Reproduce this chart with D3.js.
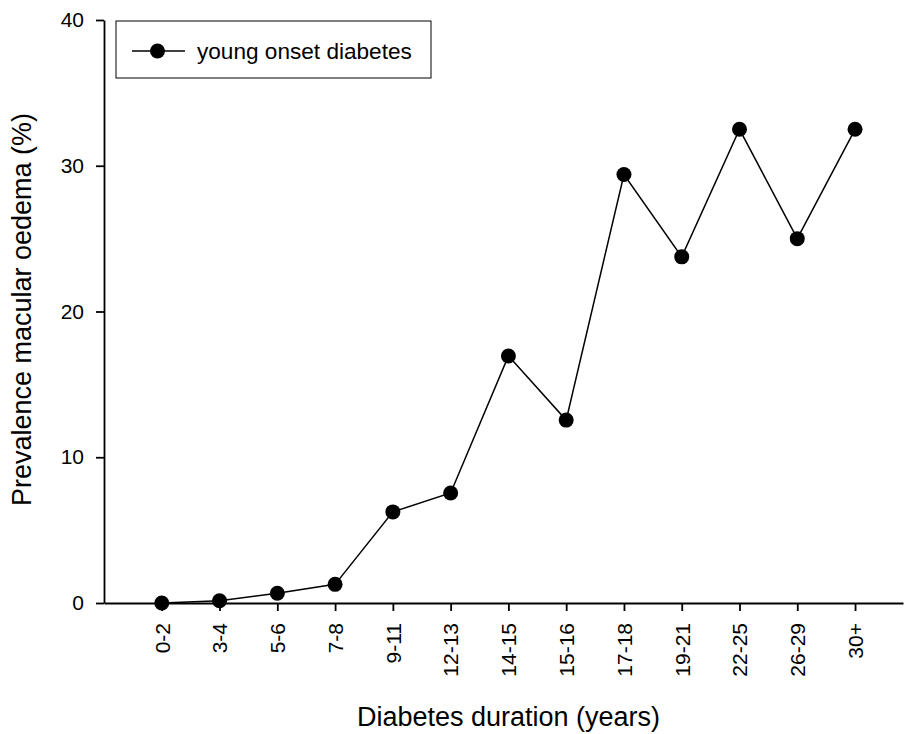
<!DOCTYPE html>
<html>
<head>
<meta charset="utf-8">
<script src="https://cdn.jsdelivr.net/npm/d3@7"></script>
<style>
  body { margin: 0; background: #fff; }
  svg { display: block; font-family: Arial, "Liberation Sans", sans-serif; }
</style>
</head>
<body>
<svg id="chart" width="904" height="734"></svg>
<script>
// duration groups and prevalence values
const durations = ["0-2", "3-4", "5-6", "7-8", "9-11", "12-13", "14-15", "15-16", "17-18", "19-21", "22-25", "26-29", "30+"];
const prevalence = [0, 0.15, 0.67, 1.28, 6.25, 7.55, 16.95, 12.55, 29.4, 23.75, 32.5, 25.0, 32.5];
const yTicks = [0, 10, 20, 30, 40];
const seriesName = "young onset diabetes";

const width = 904;
const height = 734;
const margin = { top: 20, right: 1, bottom: 131, left: 104 };

const svg = d3.select("#chart");

const x = d3.scaleLinear()
  .domain([-1, 12.83])
  .range([margin.left, width - margin.right]);

const y = d3.scaleLinear()
  .domain([0, 40])
  .range([height - margin.bottom, margin.top]);

// y axis
const yAxis = svg.append("g")
  .attr("transform", `translate(${margin.left},0)`)
  .call(d3.axisLeft(y).tickValues(yTicks).tickSize(8).tickSizeOuter(0).tickPadding(12));
yAxis.selectAll("path, line").attr("stroke", "#000").attr("stroke-width", 1.8);
yAxis.selectAll("text").attr("font-size", 21).attr("fill", "#000").attr("font-family", null);

// x axis
const xAxis = svg.append("g")
  .attr("transform", `translate(0,${y(0)})`)
  .call(d3.axisBottom(x)
    .tickValues(d3.range(durations.length))
    .tickFormat((i) => durations[i])
    .tickSize(8)
    .tickSizeOuter(0));
xAxis.selectAll("path, line").attr("stroke", "#000").attr("stroke-width", 1.8);
xAxis.selectAll("text")
  .attr("font-size", 21)
  .attr("fill", "#000")
  .attr("font-family", null)
  .attr("transform", "rotate(-90)")
  .attr("text-anchor", "end")
  .attr("x", -20)
  .attr("y", 0)
  .attr("dy", "0.35em");

// axis titles
svg.append("text")
  .attr("x", (margin.left + width - margin.right) / 2 + 5)
  .attr("y", 726)
  .attr("text-anchor", "middle")
  .attr("font-size", 27)
  .text("Diabetes duration (years)");

svg.append("text")
  .attr("transform", `translate(31,${(y(0) + y(40)) / 2 - 2}) rotate(-90)`)
  .attr("text-anchor", "middle")
  .attr("font-size", 27)
  .text("Prevalence macular oedema (%)");

// series
const line = d3.line()
  .x((d, i) => x(i))
  .y((d) => y(d));

svg.append("path")
  .datum(prevalence)
  .attr("d", line)
  .attr("fill", "none")
  .attr("stroke", "#000")
  .attr("stroke-width", 1.5);

svg.selectAll(".dot")
  .data(prevalence)
  .join("circle")
  .attr("class", "dot")
  .attr("cx", (d, i) => x(i))
  .attr("cy", (d) => y(d))
  .attr("r", 7.5)
  .attr("fill", "#000");

// legend
const legend = svg.append("g").attr("transform", "translate(116,21)");
legend.append("rect")
  .attr("width", 315)
  .attr("height", 57)
  .attr("fill", "#fff")
  .attr("stroke", "#000")
  .attr("stroke-width", 1);
legend.append("line")
  .attr("x1", 16).attr("x2", 69)
  .attr("y1", 30).attr("y2", 30)
  .attr("stroke", "#000")
  .attr("stroke-width", 1.5);
legend.append("circle")
  .attr("cx", 41.5).attr("cy", 30)
  .attr("r", 7.5)
  .attr("fill", "#000");
legend.append("text")
  .attr("x", 81)
  .attr("y", 38)
  .attr("font-size", 22.6)
  .text(seriesName);
</script>
</body>
</html>
